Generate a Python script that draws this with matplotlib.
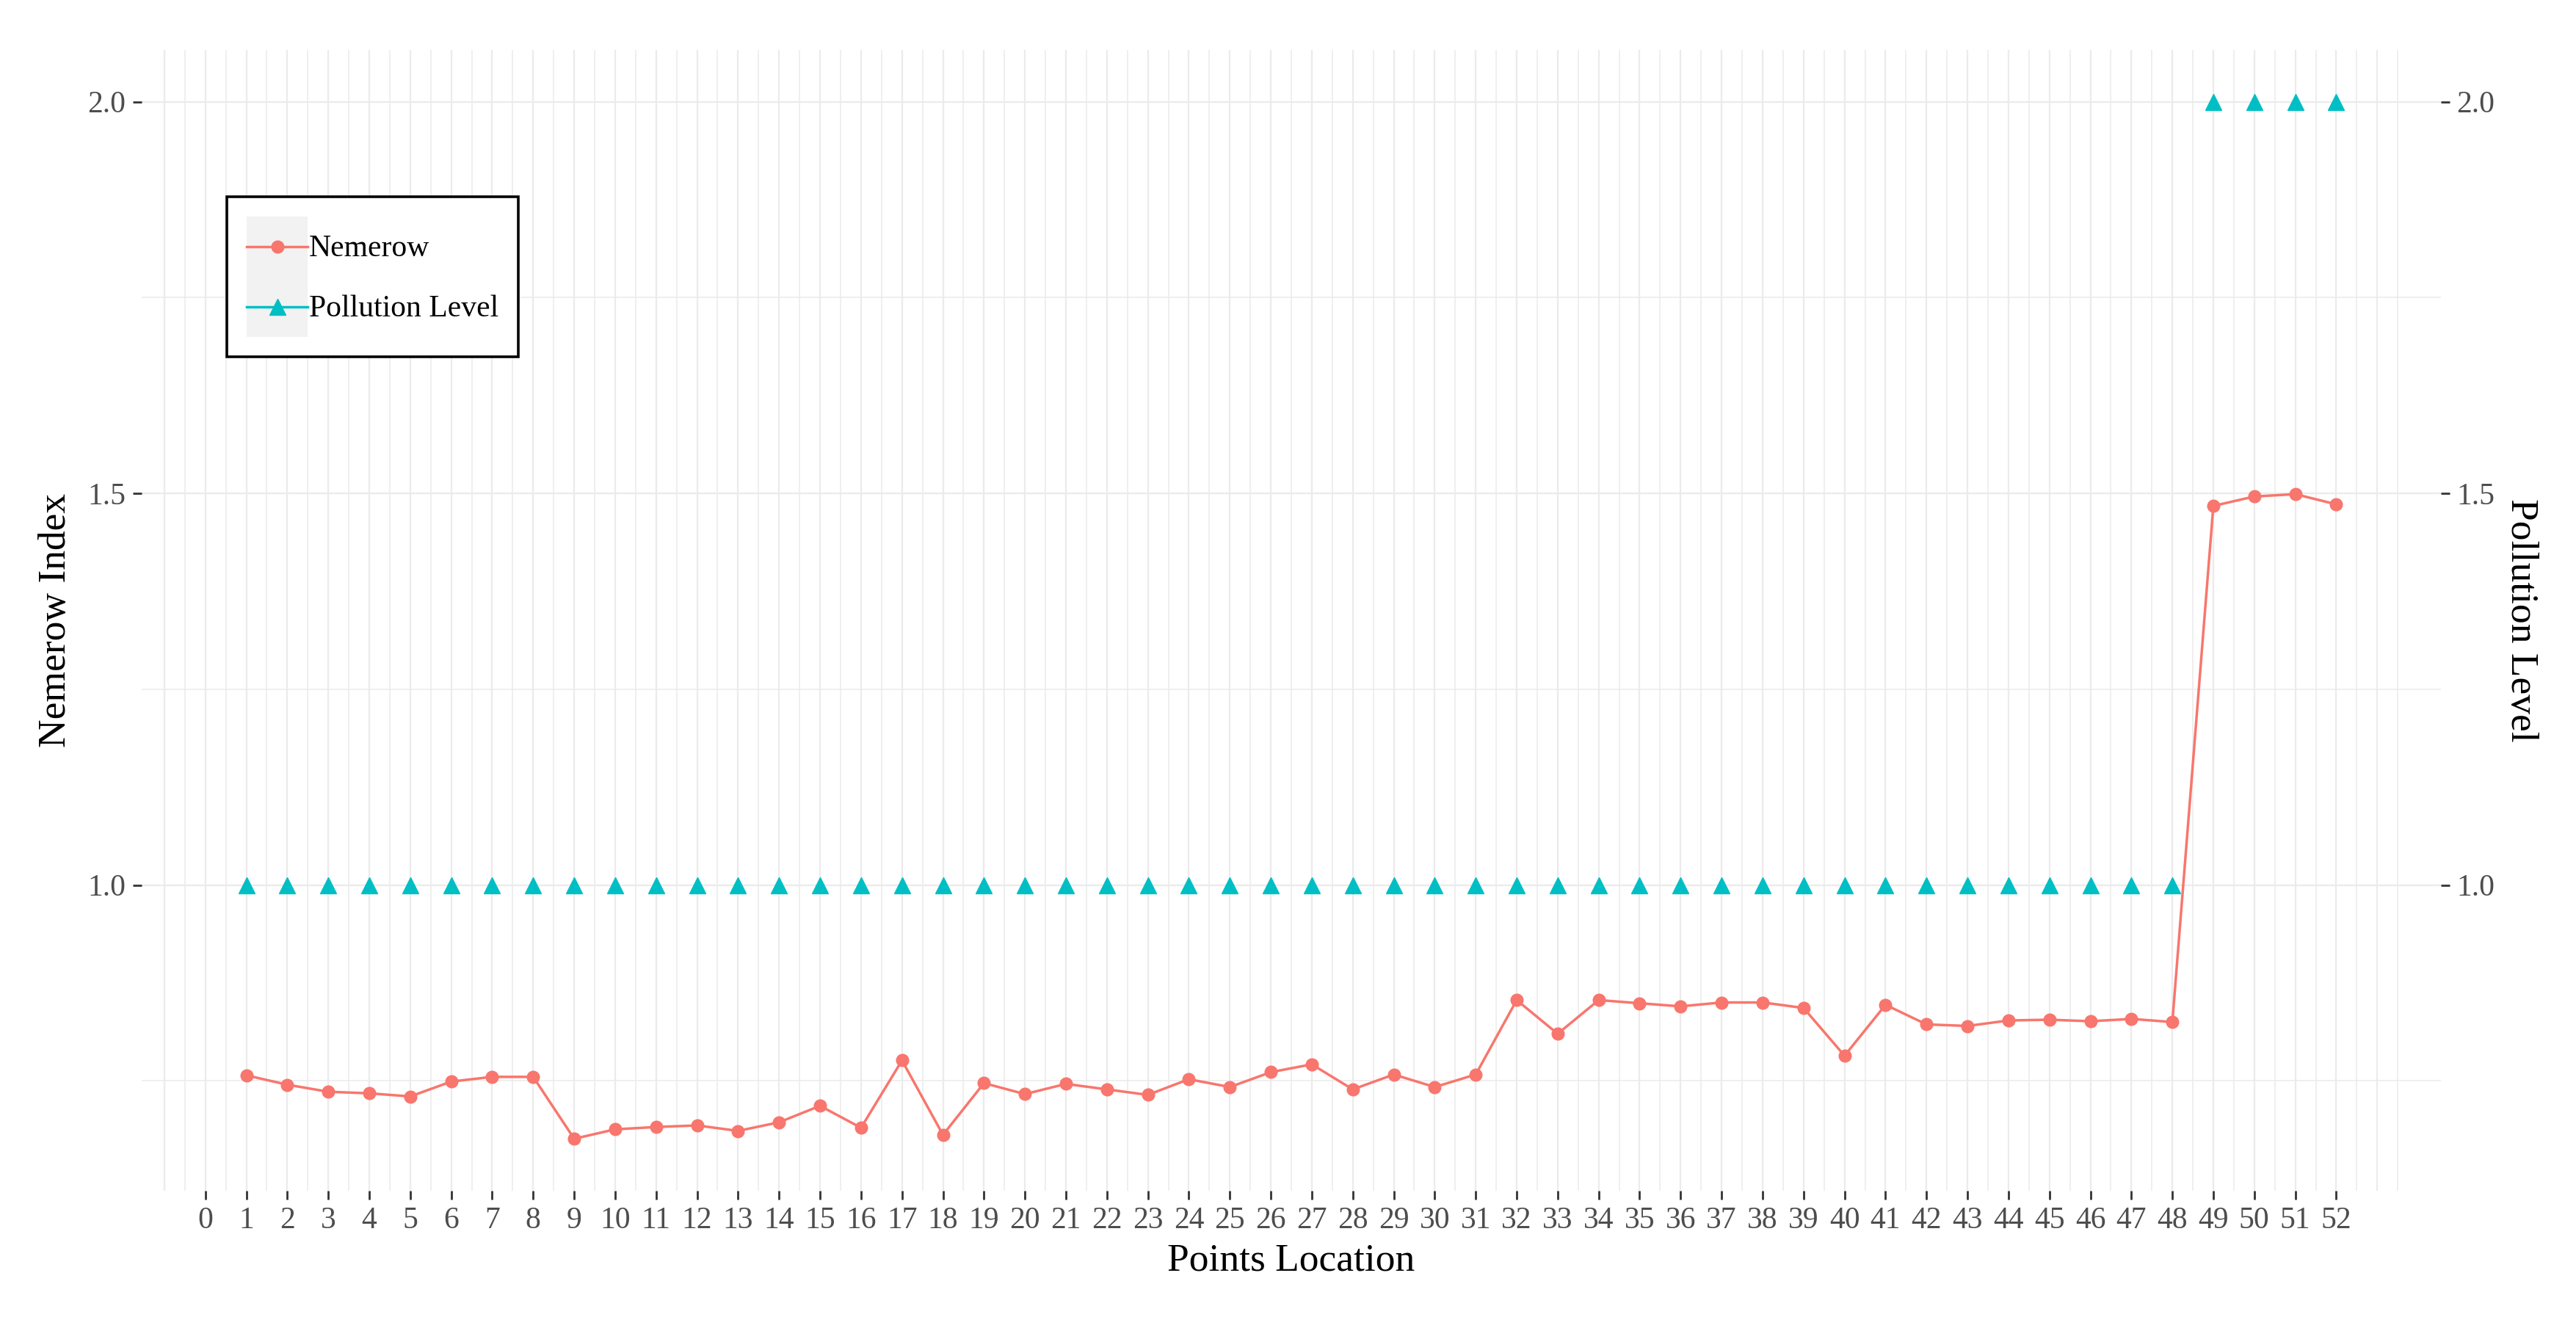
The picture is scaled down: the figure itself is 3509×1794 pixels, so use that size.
import matplotlib
matplotlib.use("Agg")
import matplotlib.pyplot as plt
from matplotlib.lines import Line2D
from matplotlib.patches import Rectangle
from matplotlib.legend_handler import HandlerTuple, HandlerLine2D
import numpy as np

# ---------------- data ----------------
locations = list(range(1, 53))
nemerow = [0.757, 0.745, 0.736, 0.734, 0.730, 0.749, 0.755, 0.755,
           0.676, 0.688, 0.691, 0.693, 0.686, 0.697, 0.718, 0.690,
           0.776, 0.681, 0.747, 0.733, 0.746, 0.739, 0.732, 0.752,
           0.742, 0.761, 0.771, 0.739, 0.758, 0.742, 0.758, 0.853,
           0.810, 0.853, 0.849, 0.845, 0.850, 0.850, 0.843, 0.782,
           0.847, 0.822, 0.820, 0.827, 0.828, 0.826, 0.829, 0.825,
           1.484, 1.496, 1.499, 1.486]
pollution = [1, 1, 1, 1, 1, 1, 1, 1, 1, 1, 1, 1, 1, 1, 1, 1,
             1, 1, 1, 1, 1, 1, 1, 1, 1, 1, 1, 1, 1, 1, 1, 1,
             1, 1, 1, 1, 1, 1, 1, 1, 1, 1, 1, 1, 1, 1, 1, 1,
             2, 2, 2, 2]
x_ticks = list(range(0, 53))
y_ticks = [1.0, 1.5, 2.0]
y_minor = [0.75, 1.25, 1.75]
series_names = ["Nemerow", "Pollution Level"]

RED = "#F8766D"
CYAN = "#00BFC4"
GRID = "#EBEBEB"
TICKC = "#4D4D4D"
FONT = "Liberation Serif"

plt.rcParams["font.family"] = [FONT, "DejaVu Serif"]


class CenteredLineHandler(HandlerLine2D):
    """Line handle drawn at the vertical centre of the key box."""
    def create_artists(self, legend, orig_handle, xdescent, ydescent,
                       width, height, fontsize, trans):
        return super().create_artists(legend, orig_handle, xdescent, 2 * ydescent,
                                      width, height, fontsize, trans)


W, H = 3509, 1794
DPI = 100
fig = plt.figure(figsize=(W / DPI, H / DPI), dpi=DPI)
fig.patch.set_facecolor("white")

left, right = 193.2 / W, 3324.8 / W
bottom, top = 1 - 1621.8 / H, 1 - 68 / H
ax = fig.add_axes([left, bottom, right - left, top - bottom])
ax.set_facecolor("white")

# ggplot-like expansion (5%)
xmin, xmax = min(locations), max(locations)
xpad = 0.05 * (xmax - xmin)
allv = nemerow + pollution
ymin, ymax = min(allv), max(allv)
ypad = 0.05 * (ymax - ymin)
ax.set_xlim(xmin - xpad, xmax + xpad)
ax.set_ylim(ymin - ypad, ymax + ypad)

# grid
ax.set_xticks(x_ticks)
ax.set_xticks(np.arange(-1, 53.6, 0.5), minor=True)
ax.set_yticks(y_ticks)
ax.set_yticks(y_minor, minor=True)
ax.grid(True, which="major", color=GRID, linewidth=1.6, zorder=0)
ax.grid(True, which="minor", color=GRID, linewidth=1.1, zorder=0)
for gx in [-1.0, 53.0]:
    ax.axvline(gx, color=GRID, linewidth=1.6, zorder=0)
ax.set_axisbelow(True)

for s in ax.spines.values():
    s.set_visible(False)

ax.tick_params(axis="both", which="major", length=8.6, width=2.0, color="#333333",
               labelsize=30, labelcolor=TICKC, pad=7)
ax.tick_params(axis="both", which="minor", length=0)
ax.set_xticklabels([str(t) for t in x_ticks], fontfamily=FONT)
ax.set_yticklabels([f"{t:.1f}" for t in y_ticks], fontfamily=FONT)

# data
LW = 2.5
MS_C = 12
MS_T = 15.5
ax.plot(locations, pollution, linestyle="none", marker="^", markersize=MS_T,
        color=CYAN, zorder=3)
ax.plot(locations, nemerow, linestyle="-", linewidth=LW, marker="o", markersize=MS_C,
        color=RED, zorder=4)

ax.set_xlabel("Points Location", fontsize=38.5, fontfamily=FONT, color="black", labelpad=8)
ax.set_ylabel("Nemerow Index", fontsize=38.5, fontfamily=FONT, color="black", labelpad=14)

# secondary axis (identity)
ax2 = ax.twinx()
ax2.set_ylim(ax.get_ylim())
ax2.set_yticks(y_ticks)
ax2.set_yticklabels([f"{t:.1f}" for t in y_ticks], fontfamily=FONT)
for s in ax2.spines.values():
    s.set_visible(False)
ax2.tick_params(axis="y", which="major", length=8.6, width=2.0, color="#333333",
                labelsize=30, labelcolor=TICKC, pad=7)
ax2.set_ylabel("Pollution Level", fontsize=38.5, fontfamily=FONT, color="black",
               rotation=270, labelpad=8, va="bottom")

# legend
key_bg = "#F2F2F2"
h1 = (Rectangle((0, 0), 1, 1, facecolor=key_bg, edgecolor="none"),
      Line2D([], [], color=RED, linewidth=LW, marker="o", markersize=MS_C))
h2 = (Rectangle((0, 0), 1, 1, facecolor=key_bg, edgecolor="none"),
      Line2D([], [], color=CYAN, linewidth=LW, marker="^", markersize=MS_T))
leg = ax2.legend([h1, h2], series_names,
                 handler_map={tuple: HandlerTuple(ndivide=1, pad=0),
                              Line2D: CenteredLineHandler()},
                 loc="upper left", bbox_to_anchor=(309 / W, 1 - 268 / H),
                 bbox_transform=fig.transFigure, borderaxespad=0,
                 prop={"family": FONT, "size": 30},
                 handlelength=1.99, handleheight=2.65, labelspacing=0,
                 handletextpad=0.05, borderpad=0.65, fancybox=False,
                 framealpha=1, edgecolor="black")
leg.get_frame().set_linewidth(2.6)

fig.savefig("out.png", dpi=DPI, facecolor="white")
